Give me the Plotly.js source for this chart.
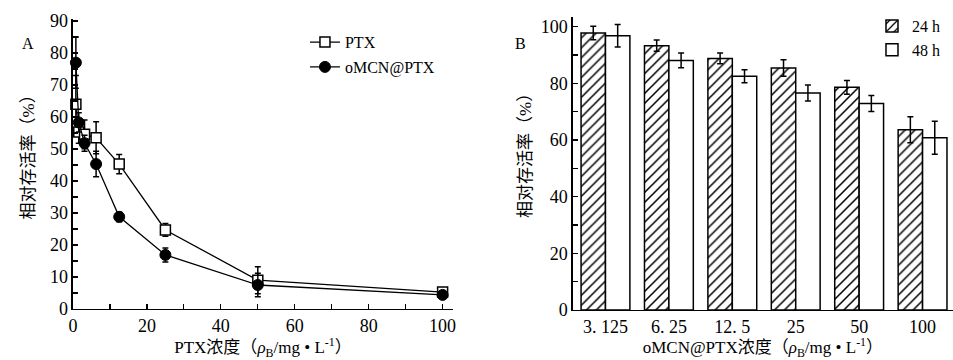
<!DOCTYPE html>
<html>
<head>
<meta charset="utf-8">
<script src="https://cdn.plot.ly/plotly-3.0.1.min.js"></script>
<style>html,body{margin:0;padding:0;background:#fff;}#chart{width:953px;height:360px;}</style>
</head>
<body>
<div id="chart"></div>
<script>
// Panel A data
const concA = [0.78, 1.56, 3.125, 6.25, 12.5, 25, 50, 100];
const ptxVals = [64, 55.3, 54.6, 53.5, 45.3, 24.7, 9, 5.3];
const ptxErr = [9, 3.5, 4.5, 5, 3, 2, 4.2, 0.8];
const omcnVals = [77, 58.3, 51.8, 45.3, 28.8, 16.9, 7.5, 4.4];
const omcnErr = [8, 3, 2.5, 4, 1.5, 2.2, 3.7, 0.6];

// Panel B data
const concB = ["3. 125", "6. 25", "12. 5", "25", "50", "100"];
const h24Vals = [97.8, 93.3, 88.8, 85.4, 78.6, 63.6];
const h24Err = [2.4, 2.0, 1.9, 2.9, 2.4, 4.6];
const h48Vals = [96.8, 88.1, 82.5, 76.6, 72.9, 60.8];
const h48Err = [4.0, 2.6, 2.3, 2.8, 2.8, 5.8];

const yTitle = '相对存活率（%）';
const xTitleA = 'PTX浓度（<i>ρ</i><sub>B</sub>/mg • L<sup>-1</sup>）';
const xTitleB = 'oMCN@PTX浓度（<i>ρ</i><sub>B</sub>/mg • L<sup>-1</sup>）';

const FONT = "'Liberation Serif', 'Noto Sans CJK SC', serif";
const ebar = {type: 'data', visible: true, color: '#000', thickness: 1.5, width: 3};

const traces = [
  {x: concA, y: ptxVals, name: 'PTX', type: 'scatter', mode: 'lines+markers',
   xaxis: 'x', yaxis: 'y', legend: 'legend', legendgroup: 'a1',
   line: {color: '#000', width: 1.3},
   marker: {symbol: 'square', size: 10, color: '#fff', line: {color: '#000', width: 1.5}},
   error_y: Object.assign({array: ptxErr}, ebar), cliponaxis: false},
  {x: concA, y: omcnVals, name: 'oMCN@PTX', type: 'scatter', mode: 'lines+markers',
   xaxis: 'x', yaxis: 'y', legend: 'legend', legendgroup: 'a2',
   line: {color: '#000', width: 1.3},
   marker: {symbol: 'circle', size: 11, color: '#000', line: {color: '#000', width: 1}},
   error_y: Object.assign({array: omcnErr}, ebar), cliponaxis: false},
  {x: concB, y: h24Vals, name: '24 h', type: 'bar', xaxis: 'x2', yaxis: 'y2', legend: 'legend2',
   marker: {color: '#fff', line: {color: '#000', width: 1.5},
            pattern: {shape: '/', fgcolor: '#000', bgcolor: '#fff', size: 7, solidity: 0.22}},
   error_y: Object.assign({array: h24Err}, ebar)},
  {x: concB, y: h48Vals, name: '48 h', type: 'bar', xaxis: 'x2', yaxis: 'y2', legend: 'legend2',
   marker: {color: '#fff', line: {color: '#000', width: 1.5}},
   error_y: Object.assign({array: h48Err}, ebar)}
];

const axisCommon = {
  showline: true, linecolor: '#000', linewidth: 1.5, ticks: 'inside', ticklen: 5,
  tickwidth: 1.2, tickcolor: '#000', showgrid: false, zeroline: false,
  tickfont: {family: FONT, size: 18, color: '#000'}
};
const titleFont = {family: FONT, size: 17, color: '#000'};

const layout = {
  width: 953, height: 360,
  margin: {l: 0, r: 0, t: 0, b: 0},
  paper_bgcolor: '#fff', plot_bgcolor: 'rgba(0,0,0,0)',
  font: {family: FONT, color: '#000'},
  barmode: 'group', bargap: 0.23, bargroupgap: 0,
  xaxis: Object.assign({}, axisCommon, {
    domain: [0.0766, 0.4753], range: [0, 102.8], dtick: 20, tick0: 0,
    minor: {ticks: 'inside', dtick: 10, ticklen: 5, tickcolor: '#000', tickwidth: 1.2},
    anchor: 'y',
    title: {text: xTitleA, font: titleFont, standoff: 6}
  }),
  yaxis: Object.assign({}, axisCommon, {
    domain: [0.1417, 0.946], range: [0, 90.5], dtick: 10, tick0: 0,
    minor: {ticks: 'inside', dtick: 5, ticklen: 5, tickcolor: '#000', tickwidth: 1.2},
    anchor: 'x'
  }),
  xaxis2: Object.assign({}, axisCommon, {
    domain: [0.601, 1.0], range: [-0.516, 5.48], ticks: '', anchor: 'y2', type: 'category',
    title: {text: xTitleB, font: titleFont, standoff: 4}
  }),
  yaxis2: Object.assign({}, axisCommon, {
    domain: [0.1389, 0.9533], range: [0, 103.5], dtick: 20, tick0: 0,
    minor: {ticks: 'inside', dtick: 10, ticklen: 5, tickcolor: '#000', tickwidth: 1.2},
    anchor: 'x2'
  }),
  legend: {x: 0.32, y: 0.93, xanchor: 'left', yanchor: 'top', bgcolor: 'rgba(0,0,0,0)',
           font: {family: FONT, size: 16, color: '#000'}, traceorder: 'grouped', tracegroupgap: 1},
  legend2: {x: 0.915, y: 0.975, xanchor: 'left', yanchor: 'top', bgcolor: 'rgba(0,0,0,0)',
            font: {family: FONT, size: 16, color: '#000'}},
  annotations: [
    {text: 'A', xref: 'paper', yref: 'paper', x: 20/953, y: (360-33)/360, showarrow: false,
     font: {family: FONT, size: 16, color: '#000'}},
    {text: 'B', xref: 'paper', yref: 'paper', x: 520/953, y: (360-33)/360, showarrow: false,
     font: {family: FONT, size: 16, color: '#000'}},
    {text: yTitle, xref: 'paper', yref: 'paper', x: 16/953, y: (360-153)/360, textangle: -90,
     showarrow: false, font: titleFont},
    {text: yTitle, xref: 'paper', yref: 'paper', x: 525/953, y: (360-152)/360, textangle: -90,
     showarrow: false, font: titleFont}
  ],
  showlegend: true
};

Plotly.newPlot('chart', traces, layout, {displayModeBar: false, staticPlot: true});
</script>
</body>
</html>
